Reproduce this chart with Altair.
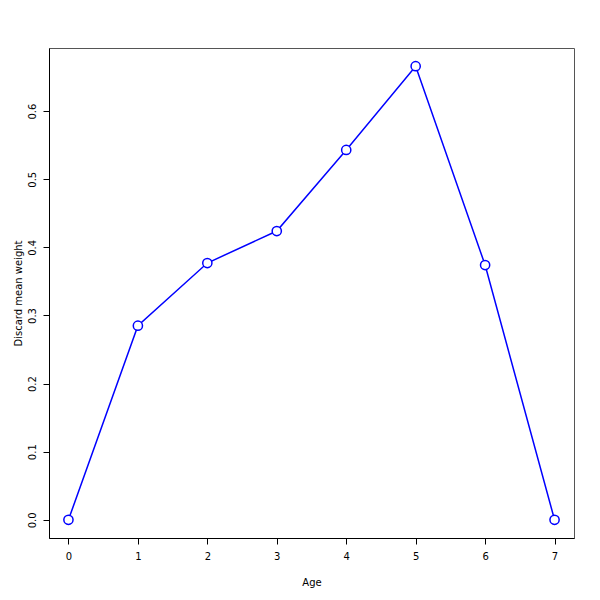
import altair as alt
import pandas as pd

ages = [0, 1, 2, 3, 4, 5, 6, 7]
weights = [0.0, 0.285, 0.377, 0.424, 0.543, 0.666, 0.374, 0.0]

df = pd.DataFrame({"Age": ages, "Weight": weights})

FONT = "DejaVu Sans"

x = alt.X("Age:Q",
          scale=alt.Scale(domain=[-0.28, 7.28], nice=False, zero=False),
          axis=alt.Axis(title="Age", values=ages, format="d", grid=False,
                        tickSize=6, labelPadding=7, titlePadding=16,
                        domainColor="black", tickColor="black",
                        labelFont=FONT, titleFont=FONT, labelFontSize=10,
                        titleFontSize=10, titleFontWeight="normal",
                        labelColor="black", titleColor="black"))
y = alt.Y("Weight:Q",
          scale=alt.Scale(domain=[-0.0267, 0.6927], nice=False, zero=False),
          axis=alt.Axis(title="Discard mean weight",
                        values=[0, 0.1, 0.2, 0.3, 0.4, 0.5, 0.6],
                        format=".1f", grid=False, tickSize=6, labelAngle=-90,
                        labelAlign="center", labelBaseline="bottom",
                        labelPadding=6, titlePadding=4,
                        domainColor="black", tickColor="black",
                        labelFont=FONT, titleFont=FONT, labelFontSize=10,
                        titleFontSize=10, titleFontWeight="normal",
                        labelColor="black", titleColor="black"))

line = alt.Chart(df).mark_line(color="#0000FF", strokeWidth=1.5).encode(x=x, y=y)
pts = alt.Chart(df).mark_point(shape="circle", filled=False, fill="white",
                               fillOpacity=1, color="#0000FF", stroke="#0000FF",
                               strokeWidth=1.5, size=85, opacity=1).encode(x=x, y=y)

chart = (line + pts).properties(
    width=525, height=490,
    autosize=alt.AutoSizeParams(type="none"),
    padding={"left": 41, "top": 40, "right": 18, "bottom": 54},
).configure_view(stroke="#555555", strokeWidth=1)

chart.save("out.html", embed_options={"renderer": "svg", "actions": False})
